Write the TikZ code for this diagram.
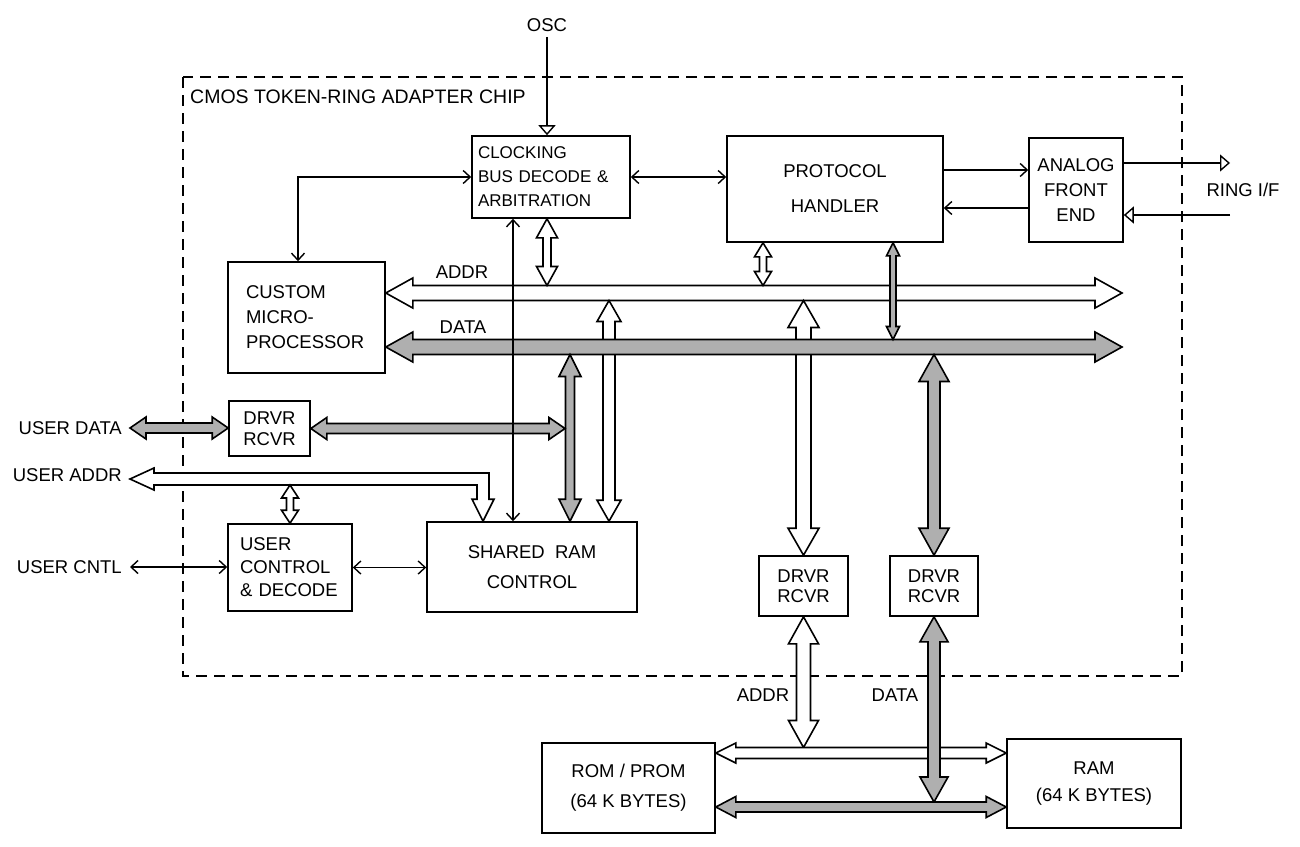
\documentclass[tikz,border=0pt]{standalone}
\usepackage{fontspec}
\setmainfont{Liberation Sans}
\usetikzlibrary{arrows.meta,positioning,calc}
\definecolor{busshade}{RGB}{175,175,175}

% fat bus arrow, head at both ends: style, from, to, half shaft, half head, head length
\newcommand\busarrow[6]{%
  \path (#2) coordinate (ba1) (#3) coordinate (ba2)
    ($(ba1)!#6pt!(ba2)$) coordinate (bh1) ($(ba2)!#6pt!(ba1)$) coordinate (bh2);
  \filldraw[#1] (ba1) -- ($(bh1)!#5pt!90:(ba2)$) -- ($(bh1)!#4pt!90:(ba2)$)
    -- ($(bh2)!#4pt!-90:(ba1)$) -- ($(bh2)!#5pt!-90:(ba1)$) -- (ba2)
    -- ($(bh2)!#5pt!90:(ba1)$) -- ($(bh2)!#4pt!90:(ba1)$)
    -- ($(bh1)!#4pt!-90:(ba2)$) -- ($(bh1)!#5pt!-90:(ba2)$) -- cycle;}

\begin{document}
\begin{tikzpicture}[x=1pt, y=-1pt,
    every node/.style={font=\fontsize{18.5}{23}\selectfont},
    box/.style={draw, line width=1.6pt, inner sep=0pt, align=center},
    lbox/.style={box, align=left},
    lbl/.style={inner sep=2pt},
    chip/.style={dash pattern=on 11pt off 7pt, line width=1.4pt},
    wire/.style={line width=1.4pt},
    hbus/.style={draw, fill=white, line width=1.6pt},
    sbus/.style={draw, fill=busshade, line width=1.6pt},
    otri/.style={-{Triangle[open, length=10pt, width=17pt]}},
    >={Straight Barb[length=7pt, width=13pt]}]
  \useasboundingbox (0,0) rectangle (1300,846);

  % Chip outline
  \draw[chip] (183,77) rectangle (1182,676);
  \node[lbl, anchor=west, font=\fontsize{19.5}{23}\selectfont] (title) at (188,97)
    {CMOS TOKEN-RING ADAPTER CHIP};

  % Blocks
  \node[lbox, text width=146pt, inner xsep=6pt, minimum height=82pt,
        font=\fontsize{17}{22}\selectfont] (clk) at (551,177)
    {CLOCKING\\[2pt]BUS DECODE \&\\[2pt]ARBITRATION};
  \node[box, minimum width=216pt, minimum height=106pt] (proto) at (835,189)
    {PROTOCOL\\[12pt]HANDLER};
  \node[box, minimum width=94pt, minimum height=104pt] (afe) at (1076,190)
    {ANALOG\\[2pt]FRONT\\[2pt]END};
  \node[lbox, text width=121pt, inner xsep=18pt, minimum height=111pt] (cpu) at (306.5,317.5)
    {CUSTOM\\[2pt]MICRO-\\[2pt]PROCESSOR};
  \node[box, minimum width=81pt, minimum height=55pt] (drvrL) at (269.5,428.5)
    {DRVR\\[-2pt]RCVR};
  \node[lbox, text width=100pt, inner xsep=12pt, minimum height=87pt] (uctl) at (290,567.5)
    {USER\\CONTROL\\\& DECODE};
  \node[box, minimum width=210pt, minimum height=90pt] (sram) at (532,567)
    {SHARED\ \ RAM\\[7pt]CONTROL};
  \node[box, minimum width=89pt, minimum height=60pt] (drvrA) at (803.5,586)
    {DRVR\\[-3pt]RCVR};
  \node[box, minimum width=88pt, minimum height=60pt] (drvrB) at (934,586)
    {DRVR\\[-3pt]RCVR};
  \node[box, minimum width=173pt, minimum height=90pt] (rom) at (628.5,788)
    {ROM / PROM\\[7pt](64 K BYTES)};
  \node[box, minimum width=174pt, minimum height=89pt] (ram) at (1094,783.5)
    {RAM\\[4pt](64 K BYTES)};

  % Labels
  \node[lbl] (osc) at (547,25) {OSC};
  \node[lbl] (ring) at (1243,190) {RING I/F};
  \node[lbl] (addrlbl) at (462,272) {ADDR};
  \node[lbl] (datalbl) at (463,327) {DATA};
  \node[lbl, anchor=east] (udata) at (124,428) {USER DATA};
  \node[lbl, anchor=east] (uaddrlbl) at (124,475) {USER ADDR};
  \node[lbl, anchor=east] (ucntl) at (124,567) {USER CNTL};
  \node[lbl] (laddrlbl) at (763,695) {ADDR};
  \node[lbl] (ldatalbl) at (895,695) {DATA};

  % Bus columns and rows
  \coordinate (c298) at (298,0);
  \coordinate (c483) at (483,0);
  \coordinate (c513) at (513,0);
  \coordinate (c547) at (547,0);
  \coordinate (c570) at (570,0);
  \coordinate (c609) at (609,0);
  \coordinate (c763) at (763,0);
  \coordinate (c893) at (893,0);
  \coordinate (addrR) at (1122,293);
  \coordinate (dataR) at (1122,347);
  \coordinate (addrT) at (0,285.5);
  \coordinate (addrB) at (0,300.5);
  \coordinate (dataT) at (0,339.5);
  \coordinate (dataB) at (0,354.5);
  \coordinate (uaddr) at (130,479);
  \coordinate (uaddrB) at (0,485);
  \coordinate (laddr) at (0,753);
  \coordinate (laddrT) at (0,747.5);
  \coordinate (ldata) at (0,807);
  \coordinate (ldataT) at (0,802);
  \coordinate (tx) at (0,170);
  \coordinate (rx) at (0,208);
  \coordinate (ringO) at (1230,163);
  \coordinate (ringI) at (1230,215);

  % Address side
  \busarrow{hbus}{cpu.east |- addrR}{addrR}{7.5}{15}{27}
  \busarrow{hbus}{c547 |- clk.south}{c547 |- addrT}{4}{10.5}{19}
  \busarrow{hbus}{c609 |- addrB}{c609 |- sram.north}{6}{12}{21}
  \busarrow{hbus}{c763 |- proto.south}{c763 |- addrT}{3.5}{8.5}{14}
  \busarrow{hbus}{drvrA.north |- addrB}{drvrA.north}{7.5}{15.5}{27}
  \filldraw[hbus] let \p1=(uaddr), \p2=(c483 |- sram.north) in
    (\p1) -- ++(24pt,11pt) -- ++(0pt,-5pt) -- (\x2+6pt,\y1+6pt) -- (\x2+6pt,\y2+22pt)
    -- ++(5pt,0pt) -- (\p2) -- ++(-11pt,22pt) -- ++(5pt,0pt) -- (\x2-6pt,\y1-6pt)
    -- (\x1+24pt,\y1-6pt) -- ++(0pt,-5pt) -- cycle;
  \busarrow{hbus}{uctl.north |- uaddrB}{uctl.north}{3.5}{8.5}{13}

  % Data side
  \busarrow{sbus}{cpu.east |- dataR}{dataR}{7.5}{15}{27}
  \busarrow{sbus}{c893 |- proto.south}{c893 |- dataT}{3}{6.5}{13}
  \busarrow{sbus}{c570 |- dataB}{c570 |- sram.north}{4.5}{11}{22}
  \busarrow{sbus}{drvrB.north |- dataB}{drvrB.north}{6}{15}{27}
  \busarrow{sbus}{drvrL.east}{$(c570 |- drvrL.east)+(-5,0)$}{5}{11}{16}
  \busarrow{sbus}{$(udata.east)+(6,0)$}{drvrL.west |- udata.east}{5}{11}{16}

  % Memory buses
  \busarrow{hbus}{drvrA.south}{drvrA.south |- laddrT}{7}{15}{27}
  \busarrow{hbus}{rom.east |- laddr}{ram.west |- laddr}{5.5}{10}{20}
  \busarrow{sbus}{drvrB.south}{drvrB.south |- ldataT}{6}{14}{25}
  \busarrow{sbus}{rom.east |- ldata}{ram.west |- ldata}{5}{10.5}{20}

  % Control lines
  \draw[wire, otri, shorten <=3pt] (osc.south) -- (osc.south |- clk.north);
  \draw[wire, <->] (clk.east) -- (clk.east -| proto.west);
  \draw[wire, ->] (proto.east |- tx) -- (afe.west |- tx);
  \draw[wire, ->] (afe.west |- rx) -- (proto.east |- rx);
  \draw[wire, otri] (afe.east |- ringO) -- (ringO);
  \draw[wire, otri] (ringI) -- (afe.east |- ringI);
  \draw[wire, <->] (clk.west) -| (c298 |- cpu.north);
  \draw[wire, <->] (c513 |- clk.south) -- (c513 |- sram.north);
  \draw[wire, <->] ($(ucntl.east)+(6,0)$) -- (uctl.west |- ucntl.east);
  \draw[wire, <->] (uctl.east) -- (sram.west |- uctl.east);
\end{tikzpicture}
\end{document}
